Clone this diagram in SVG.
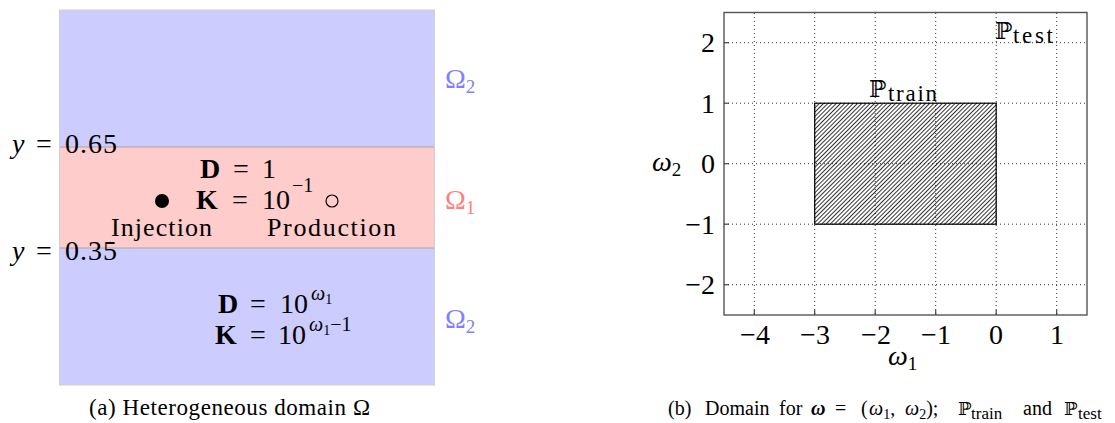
<svg xmlns="http://www.w3.org/2000/svg" width="1115" height="423" viewBox="0 0 1115 423">
<style>
text{font-family:"Liberation Serif","DejaVu Serif",serif;fill:#000}
.m{font-size:28px}
.it{font-style:italic}
.b{font-weight:bold}
.sup{font-size:20px}
.bb{font-family:"DejaVu Serif","DejaVu Sans",serif}
.grid{stroke:#333;stroke-width:1;stroke-dasharray:1 3;fill:none}
.tick{stroke:#444;stroke-width:1.2}
.cap{font-size:20px}
</style>
<defs>
<pattern id="hatch" patternUnits="userSpaceOnUse" width="10" height="3" patternTransform="rotate(-45)">
<line x1="0" y1="1.5" x2="10" y2="1.5" stroke="#000" stroke-width="0.8"/>
</pattern>
</defs>
<g id="domain">
<rect x="59.5" y="10" width="375" height="375" fill="#ccccff" stroke="#d0d0d0" stroke-width="1"/>
<rect x="60" y="147" width="374" height="101" fill="#ffcccc"/>
<line x1="60" y1="147" x2="434" y2="147" stroke="#a8a8a8" stroke-width="1.2"/>
<line x1="60" y1="248" x2="434" y2="248" stroke="#a8a8a8" stroke-width="1.2"/>
</g>
<g id="labels-left">
<text class="m" y="153"><tspan x="12" class="it">y</tspan><tspan x="36">=</tspan><tspan x="65" textLength="52">0.65</tspan></text>
<text class="m" y="260"><tspan x="12" class="it">y</tspan><tspan x="36">=</tspan><tspan x="65" textLength="52">0.35</tspan></text>
<text class="m" y="178"><tspan x="200" class="b">D</tspan><tspan x="233">=</tspan><tspan x="262">1</tspan></text>
<text class="m" y="209"><tspan x="196" class="b">K</tspan><tspan x="232">=</tspan><tspan x="262">10</tspan><tspan x="292" y="192" class="sup">−1</tspan></text>
<circle cx="162" cy="201" r="7" fill="#000"/>
<circle cx="332" cy="201" r="6" fill="none" stroke="#000" stroke-width="1.2"/>
<text font-size="26" x="111" y="236" textLength="101">Injection</text>
<text font-size="26" x="267" y="236" textLength="129">Production</text>
<text class="m" y="313"><tspan x="218" class="b">D</tspan><tspan x="250">=</tspan><tspan x="280">10</tspan><tspan x="311" y="300" class="sup it">ω</tspan><tspan y="304" font-size="14">1</tspan></text>
<text class="m" y="344"><tspan x="215" class="b">K</tspan><tspan x="250">=</tspan><tspan x="278">10</tspan><tspan x="309" y="331" class="sup it">ω</tspan><tspan y="335" font-size="14">1</tspan><tspan y="331" class="sup">−1</tspan></text>
<text class="m" x="445" y="88" style="fill:#8080ff">Ω<tspan font-size="19" y="93">2</tspan></text>
<text class="m" x="445" y="209" style="fill:#ff8080">Ω<tspan font-size="19" y="214">1</tspan></text>
<text class="m" x="445" y="328" style="fill:#8080ff">Ω<tspan font-size="19" y="333">2</tspan></text>
<text x="89" y="415" font-size="23" textLength="281">(a) Heterogeneous domain Ω</text>
</g>
<g id="plot">
<g id="grid">
<line class="grid" x1="754.3" y1="13" x2="754.3" y2="315"/>
<line class="grid" x1="814.7" y1="13" x2="814.7" y2="315"/>
<line class="grid" x1="875.2" y1="13" x2="875.2" y2="315"/>
<line class="grid" x1="935.7" y1="13" x2="935.7" y2="315"/>
<line class="grid" x1="996.2" y1="13" x2="996.2" y2="315"/>
<line class="grid" x1="1056.7" y1="13" x2="1056.7" y2="315"/>
<line class="grid" x1="724" y1="42.7" x2="1087" y2="42.7"/>
<line class="grid" x1="724" y1="103.2" x2="1087" y2="103.2"/>
<line class="grid" x1="724" y1="163.7" x2="1087" y2="163.7"/>
<line class="grid" x1="724" y1="224.2" x2="1087" y2="224.2"/>
<line class="grid" x1="724" y1="284.7" x2="1087" y2="284.7"/>
</g>
<rect id="train" x="814.7" y="103.2" width="181.5" height="121" fill="url(#hatch)" stroke="#000" stroke-width="1.2"/>
<rect x="724" y="12.5" width="363" height="302.5" fill="none" stroke="#555" stroke-width="1.4"/>
<g id="ticks">
<line class="tick" x1="754.3" y1="315" x2="754.3" y2="310"/>
<line class="tick" x1="814.7" y1="315" x2="814.7" y2="310"/>
<line class="tick" x1="875.2" y1="315" x2="875.2" y2="310"/>
<line class="tick" x1="935.7" y1="315" x2="935.7" y2="310"/>
<line class="tick" x1="996.2" y1="315" x2="996.2" y2="310"/>
<line class="tick" x1="1056.7" y1="315" x2="1056.7" y2="310"/>
<line class="tick" x1="724" y1="42.7" x2="729" y2="42.7"/>
<line class="tick" x1="724" y1="103.2" x2="729" y2="103.2"/>
<line class="tick" x1="724" y1="163.7" x2="729" y2="163.7"/>
<line class="tick" x1="724" y1="224.2" x2="729" y2="224.2"/>
<line class="tick" x1="724" y1="284.7" x2="729" y2="284.7"/>
</g>
<g id="ylabels" font-size="28" text-anchor="end">
<text x="715" y="52">2</text>
<text x="715" y="112.5">1</text>
<text x="715" y="173">0</text>
<text x="715" y="233.5">−1</text>
<text x="715" y="294">−2</text>
</g>
<g id="xlabels" font-size="28" text-anchor="middle">
<text x="755" y="344">−4</text>
<text x="815" y="344">−3</text>
<text x="876" y="344">−2</text>
<text x="936" y="344">−1</text>
<text x="996" y="344">0</text>
<text x="1057" y="344">1</text>
</g>
<text font-size="28" x="652" y="171"><tspan class="it">ω</tspan><tspan font-size="19" y="176">2</tspan></text>
<text font-size="28" x="888" y="365"><tspan class="it">ω</tspan><tspan font-size="19" y="370">1</tspan></text>
<text class="bb" font-size="23" x="869" y="97">ℙ</text>
<text font-size="23" x="888" y="101" textLength="49">train</text>
<text class="bb" font-size="23" x="995" y="39">ℙ</text>
<text font-size="23" x="1013" y="43" textLength="40">test</text>
</g>
<g id="caption-b" class="cap">
<text y="415"><tspan x="668">(b)</tspan><tspan x="705">Domain</tspan><tspan x="779">for</tspan><tspan x="811" class="it b">ω</tspan><tspan x="835">=</tspan><tspan x="861">(</tspan><tspan x="869" class="it">ω</tspan><tspan font-size="14" y="419">1</tspan><tspan y="415">,</tspan><tspan x="905" class="it">ω</tspan><tspan font-size="14" y="419">2</tspan><tspan y="415">);</tspan><tspan x="958" class="bb" font-size="18">ℙ</tspan><tspan x="971" font-size="17" y="419">train</tspan><tspan x="1023" y="415">and</tspan><tspan x="1064" class="bb" font-size="18">ℙ</tspan><tspan x="1078" font-size="17" y="419">test</tspan></text>
</g>
</svg>
